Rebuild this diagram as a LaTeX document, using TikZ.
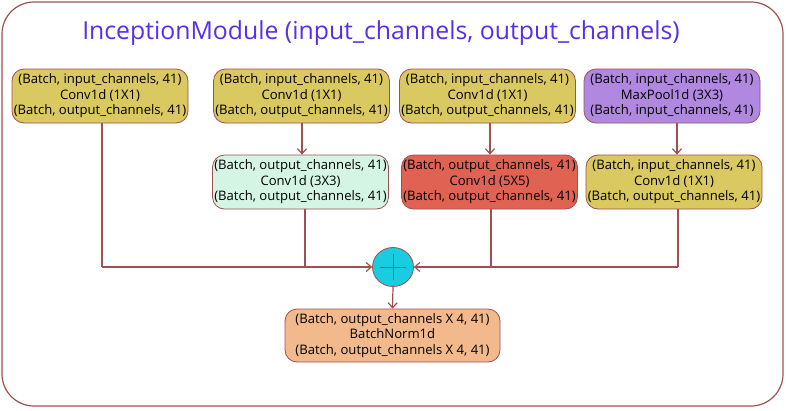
\documentclass[tikz,border=0pt]{standalone}
\usepackage{fontspec}
\setmainfont{Open Sans}
\usetikzlibrary{arrows.meta,shapes.geometric}
\definecolor{edge}{RGB}{160,80,80}
\definecolor{titlec}{RGB}{90,45,235}
\definecolor{yel}{RGB}{218,200,96}
\definecolor{pur}{RGB}{176,136,224}
\definecolor{mint}{RGB}{212,245,228}
\definecolor{redb}{RGB}{224,98,82}
\definecolor{orb}{RGB}{242,186,140}
\definecolor{cyanb}{RGB}{26,204,224}
\begin{document}
\begin{tikzpicture}[x=1pt,y=-1pt,
  blk/.style={draw=edge,line width=0.8pt,rounded corners=12pt,minimum width=176pt,minimum height=54pt,
    align=center,inner sep=1pt,font=\fontsize{13.1}{15.5}\selectfont},
  wire/.style={draw=edge,line width=1.2pt},
  arr/.style={wire,-{Straight Barb[length=5pt,width=9pt]}}]
\useasboundingbox (0,0) rectangle (786,410);
\draw[edge,line width=1.2pt,rounded corners=32pt] (2,2) rectangle (783,406);
\node[font=\fontsize{24.8}{28}\selectfont,text=titlec] (title) at (381,33) {InceptionModule (input\_channels, output\_channels)};
\node[blk,fill=yel] (b1) at (100,96) {(Batch, input\_channels, 41)\\Conv1d (1X1)\\(Batch, output\_channels, 41)};
\node[blk,fill=yel] (b2) at (301.5,96) {(Batch, input\_channels, 41)\\Conv1d (1X1)\\(Batch, output\_channels, 41)};
\node[blk,fill=yel] (b3) at (487.5,96) {(Batch, input\_channels, 41)\\Conv1d (1X1)\\(Batch, output\_channels, 41)};
\node[blk,fill=pur] (b4) at (672,96) {(Batch, input\_channels, 41)\\MaxPool1d (3X3)\\(Batch, input\_channels, 41)};
\node[blk,fill=mint] (b5) at (300.5,182) {(Batch, output\_channels, 41)\\Conv1d (3X3)\\(Batch, output\_channels, 41)};
\node[blk,fill=redb] (b6) at (489.5,182) {(Batch, output\_channels, 41)\\Conv1d (5X5)\\(Batch, output\_channels, 41)};
\node[blk,fill=yel] (b7) at (674,182) {(Batch, input\_channels, 41)\\Conv1d (1X1)\\(Batch, output\_channels, 41)};
\node[draw=edge,line width=0.8pt,fill=cyanb,ellipse,minimum width=41pt,minimum height=39pt,inner sep=0pt] (sum) at (393,267) {};
\draw[edge,line width=0.9pt] ([xshift=-13pt]sum.center) -- ([xshift=13pt]sum.center)
  ([yshift=-13pt]sum.center) -- ([yshift=13pt]sum.center);
\node[blk,fill=orb,minimum width=215pt,minimum height=53pt] (bn) at (392.5,335.5) {(Batch, output\_channels X 4, 41)\\BatchNorm1d\\(Batch, output\_channels X 4, 41)};
\coordinate (j1) at (102,267);
\coordinate (j5) at (305,267);
\coordinate (j6) at (491,267);
\coordinate (j7) at (678,267);
\draw[wire] (b1.south -| j1) -- (j1);
\draw[arr] (j1) -- (sum.west);
\draw[wire] (b5.south -| j5) -- (j5);
\draw[wire] (b6.south -| j6) -- (j6);
\draw[wire] (b7.south -| j7) -- (j7);
\draw[arr] (j7) -- (sum.east);
\draw[arr] (b2.south -| 302,0) -- (b5.north -| 302,0);
\draw[arr] (b3.south -| 490,0) -- (b6.north -| 490,0);
\draw[arr] (b4.south -| 677,0) -- (b7.north -| 677,0);
\draw[arr] (sum.south) -- (bn.north);
\end{tikzpicture}
\end{document}
